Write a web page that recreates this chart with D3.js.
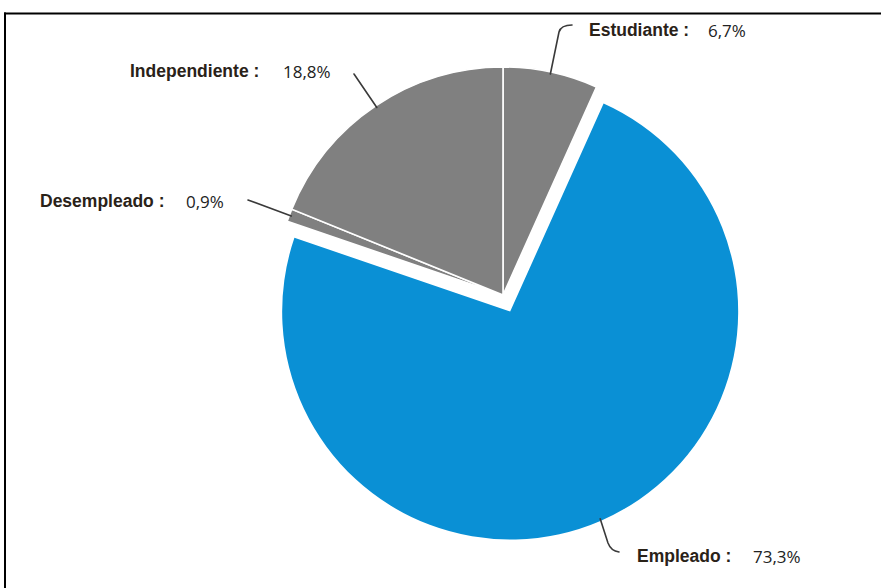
<!DOCTYPE html>
<html>
<head>
<meta charset="utf-8">
<script src="https://cdn.jsdelivr.net/npm/d3@7"></script>
<style>
html,body{margin:0;padding:0;background:#fff;}
svg{display:block;}
</style>
</head>
<body>
<svg id="chart" width="881" height="588"></svg>
<script>
// ---- data ----
const categories = ["Estudiante", "Empleado", "Desempleado", "Independiente"];
const values = [6.7, 73.3, 0.9, 18.8];
const valueLabels = ["6,7%", "73,3%", "0,9%", "18,8%"];
const nameLabels = ["Estudiante :", "Empleado  :", "Desempleado :", "Independiente :"];

// ---- layout / style ----
const W = 881, H = 588;
const cx = 503, cy = 295, R = 228;
const explodeIdx = 1, explodeDist = 18;
const colors = ["#808080", "#0a90d5", "#808080", "#808080"];
// label placement: name x, value x, baseline y, leader end, leader elbow
const labelLayout = [
  {nx: 589, vx: 708, y: 36, end: [572, 25], elbow: [559, 32], ctrl: [561, 25]},
  {nx: 637, vx: 753, y: 562, end: [619, 552], elbow: [608, 543], ctrl: [611, 551]},
  {nx: 40, vx: 186, y: 207, end: [248, 200], elbow: null},
  {nx: 130, vx: 283, y: 77, end: [354, 74], elbow: null}
];

const svg = d3.select("#chart");

// frame
svg.append("line").attr("x1", 4).attr("x2", W).attr("y1", 13.5).attr("y2", 13.5)
  .attr("stroke", "#000").attr("stroke-width", 2);
svg.append("line").attr("x1", 5).attr("x2", 5).attr("y1", 12.5).attr("y2", H)
  .attr("stroke", "#000").attr("stroke-width", 2);

const arcsData = d3.pie().sort(null).value(d => d)(values);
const arc = d3.arc().innerRadius(0).outerRadius(R);

function offsetFor(i, d) {
  if (i !== explodeIdx) return [0, 0];
  const a = (d.startAngle + d.endAngle) / 2;
  return [explodeDist * Math.sin(a), -explodeDist * Math.cos(a)];
}

const g = svg.append("g").attr("transform", `translate(${cx},${cy})`);
g.selectAll("path.slice").data(arcsData).enter().append("path")
  .attr("class", "slice")
  .attr("d", arc)
  .attr("transform", (d, i) => { const o = offsetFor(i, d); return `translate(${o[0]},${o[1]})`; })
  .attr("fill", (d, i) => colors[i])
  .attr("stroke", "#fff")
  .attr("stroke-width", (d, i) => i === explodeIdx ? 0 : 1.6)
  .attr("stroke-linejoin", "miter");

// leader lines
arcsData.forEach((d, i) => {
  const a = (d.startAngle + d.endAngle) / 2;
  const o = offsetFor(i, d);
  const sx = cx + o[0] + (R - 2) * Math.sin(a);
  const sy = cy + o[1] - (R - 2) * Math.cos(a);
  const L = labelLayout[i];
  const p = d3.path();
  p.moveTo(sx, sy);
  if (L.elbow) {
    p.lineTo(L.elbow[0], L.elbow[1]);
    p.quadraticCurveTo(L.ctrl[0], L.ctrl[1], L.end[0], L.end[1]);
  } else {
    p.lineTo(L.end[0], L.end[1]);
  }
  svg.append("path").attr("d", p.toString()).attr("fill", "none")
    .attr("stroke", "#3a3a3a").attr("stroke-width", 1.6).attr("stroke-linecap", "round");
});

// labels
const labels = svg.append("g");
categories.forEach((c, i) => {
  const L = labelLayout[i];
  labels.append("text").attr("x", L.nx).attr("y", L.y)
    .attr("font-family", "'Liberation Sans Narrow', 'Arial Narrow', 'Liberation Sans', sans-serif")
    .attr("font-weight", "bold").attr("font-size", 17.5).attr("fill", "#2a2218")
    .text(nameLabels[i]);
  labels.append("text").attr("x", L.vx).attr("y", L.y + 1)
    .attr("font-family", "'Open Sans', 'Noto Sans', sans-serif")
    .attr("font-size", 17).attr("fill", "#222")
    .text(valueLabels[i]);
});
</script>
</body>
</html>
